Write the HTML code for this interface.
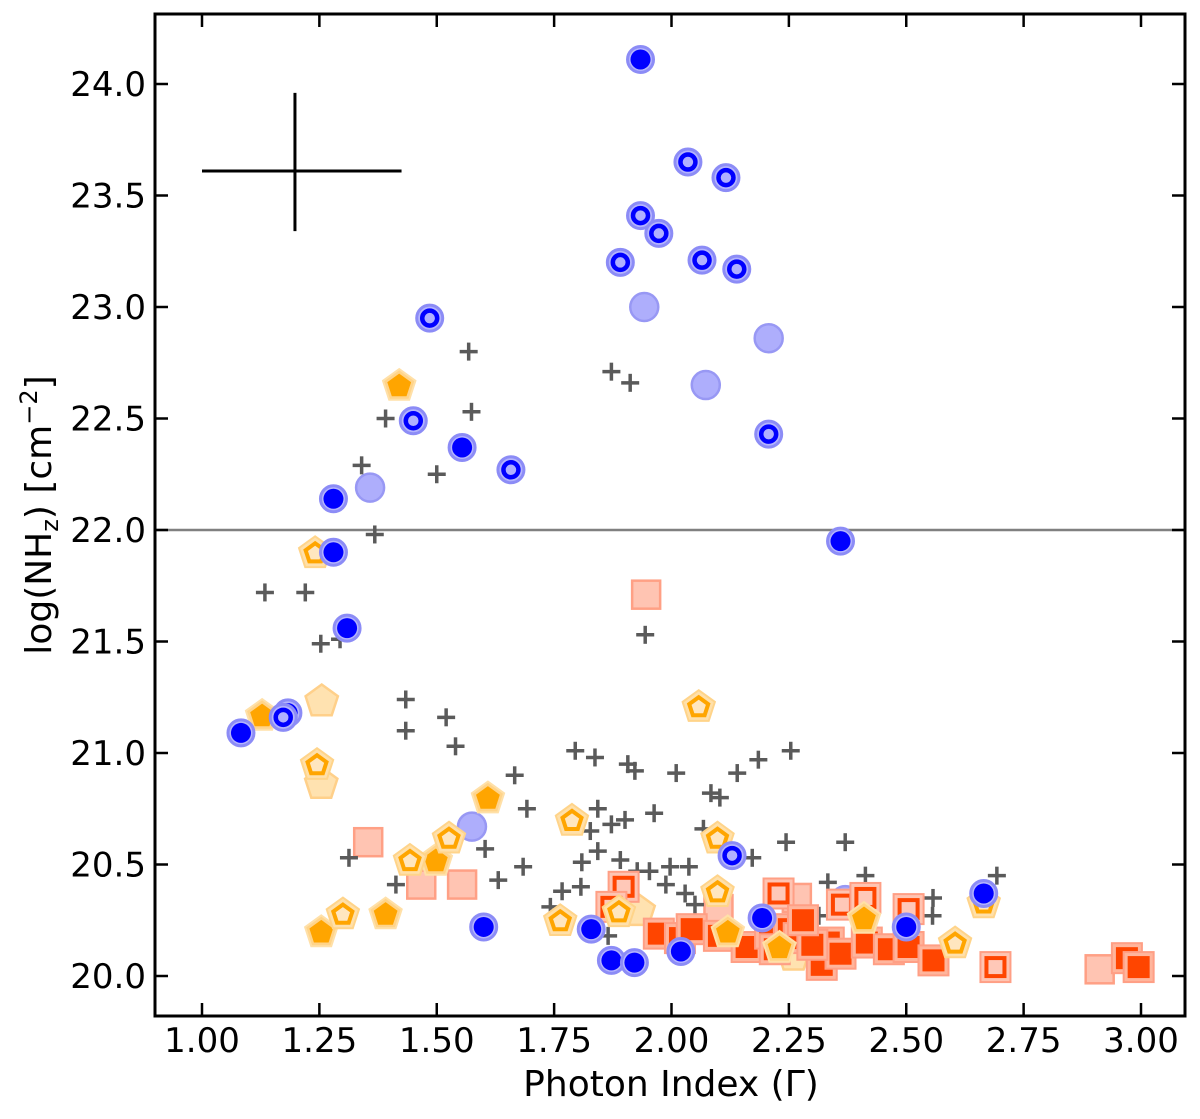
<!DOCTYPE html>
<html><head><meta charset="utf-8">
<style>
html,body{margin:0;padding:0;background:#fff;}
svg{display:block;font-family:"DejaVu Sans","Liberation Sans",sans-serif;}
</style></head>
<body>
<svg id="chart" width="1200" height="1119" viewBox="0 0 1200 1119">
<g id="marks"></g>
<g id="axes"></g>
</svg>
<script>
// ---- data ----
const xTicks = [1.00,1.25,1.50,1.75,2.00,2.25,2.50,2.75,3.00];
const yTicks = [20.0,20.5,21.0,21.5,22.0,22.5,23.0,23.5,24.0];
const blueFillX = [1.934,1.554,1.280,1.280,1.309,1.083,1.600,1.829,1.872,1.921,2.020,2.360,2.193,2.500,2.665];
const blueFillY = [24.11,22.37,22.14,21.90,21.56,21.09,20.22,20.21,20.07,20.06,20.11,21.95,20.26,20.22,20.37];
const blueOpenX = [1.934,1.891,1.973,2.035,2.116,2.065,2.139,1.485,1.450,1.658,2.207,1.183,1.173,2.129];
const blueOpenY = [23.41,23.20,23.33,23.65,23.58,23.21,23.17,22.95,22.49,22.27,22.43,21.18,21.16,20.54];
const blueLightX = [1.942,2.207,2.073,1.358,1.575,2.370];
const blueLightY = [23.00,22.86,22.65,22.19,20.67,20.34];
const pentFillX = [1.420,1.128,1.609,1.498,1.391,1.254,2.410,2.230,2.120];
const pentFillY = [22.65,21.17,20.80,20.52,20.28,20.20,20.26,20.13,20.20];
const pentOpenX = [1.241,1.245,1.526,1.443,1.300,2.058,1.788,2.098,1.763,2.098,2.604,2.665,1.888];
const pentOpenY = [21.90,20.95,20.62,20.52,20.28,21.21,20.70,20.62,20.25,20.38,20.15,20.33,20.29];
const pentLightX = [1.255,1.254,1.930,2.260];
const pentLightY = [21.24,20.87,20.30,20.10];
const sqLightX = [1.946,1.354,1.467,1.554,2.267,2.912,2.100];
const sqLightY = [21.71,20.60,20.41,20.41,20.35,20.03,20.30];
const sqOpenX = [1.898,1.872,2.228,2.363,2.505,2.690,2.413];
const sqOpenY = [20.40,20.31,20.37,20.32,20.30,20.04,20.35];
const sqFillX = [1.973,2.018,2.043,2.101,2.160,2.210,2.250,2.220,2.271,2.320,2.335,2.360,2.416,2.463,2.505,2.558,2.970,2.995,2.300,2.280];
const sqFillY = [20.19,20.17,20.21,20.18,20.13,20.19,20.21,20.12,20.17,20.05,20.15,20.10,20.15,20.12,20.13,20.07,20.08,20.04,20.14,20.25];
const crossX = [1.568,1.872,1.912,1.574,1.391,1.500,1.340,1.368,1.134,1.220,1.253,1.294,1.944,1.434,1.434,1.520,1.540,1.795,1.837,1.907,1.922,2.010,2.140,2.185,2.254,1.666,1.692,1.843,1.963,2.084,2.103,2.068,2.370,1.827,1.872,1.901,1.313,1.603,1.684,1.631,1.809,1.843,1.891,1.927,1.953,1.997,2.037,2.172,2.244,1.413,1.767,1.742,1.988,2.029,2.050,2.333,2.413,2.557,2.693,1.865,1.807,2.314,2.556,2.185];
const crossY = [22.80,22.71,22.66,22.53,22.50,22.25,22.29,21.98,21.72,21.72,21.49,21.51,21.53,21.24,21.10,21.16,21.03,21.01,20.98,20.95,20.92,20.91,20.91,20.97,21.01,20.90,20.75,20.75,20.73,20.82,20.80,20.66,20.60,20.65,20.68,20.70,20.53,20.57,20.49,20.43,20.51,20.56,20.52,20.47,20.47,20.49,20.49,20.53,20.60,20.41,20.38,20.31,20.41,20.37,20.32,20.42,20.45,20.35,20.45,20.18,20.40,20.27,20.27,20.16];
const errCenter = [1.198, 23.61];
const errHalfX = [0.198, 0.227];
const errHalfY = [0.35, 0.27];
const refLineY = 22.0;

// ---- axes ----
const L=155,R=1185,T=14,B=1016;
const X = v => 202 + (v-1.0)*469.5;
const Y = v => 84 + (24.0-v)*223;
const NS='http://www.w3.org/2000/svg';
const marks=document.getElementById('marks');
const axes=document.getElementById('axes');
function mk(tag,attrs,parent){const e=document.createElementNS(NS,tag);for(const k in attrs)e.setAttribute(k,attrs[k]);parent.appendChild(e);return e;}
function pent(cx,cy,r){let p=[];for(let i=0;i<5;i++){const a=-Math.PI/2+i*2*Math.PI/5;p.push((cx+r*Math.cos(a)).toFixed(1)+','+(cy+r*Math.sin(a)).toFixed(1));}return p.join(' ');}

let hl=mk('line',{x1:L,x2:R,y1:Y(refLineY),y2:Y(refLineY),stroke:'#808080','stroke-width':2.5},marks);



sqLightX.forEach((x,i)=>{const s=28;let e=mk('rect',{x:X(x)-s/2,y:Y(sqLightY[i])-s/2,width:s,height:s,fill:'#ffc4b2',stroke:'#ffa085','stroke-width':2.5},marks);

});
pentLightX.forEach((x,i)=>{let e=mk('polygon',{points:pent(X(x),Y(pentLightY[i])+2,17),fill:'#ffe2b0',stroke:'#ffd08a','stroke-width':2.5},marks);

});
blueLightX.forEach((x,i)=>{let e=mk('circle',{cx:X(x),cy:Y(blueLightY[i]),r:14,fill:'#aeaefc',stroke:'#9898f4','stroke-width':2.5},marks);

});

crossX.forEach((x,i)=>{const cx=X(x),cy=Y(crossY[i]),a=9;let g=mk('g',{stroke:'#5a5a5a','stroke-width':3.5},marks);


mk('line',{x1:cx-a,x2:cx+a,y1:cy,y2:cy},g);mk('line',{x1:cx,x2:cx,y1:cy-a,y2:cy+a},g);});

sqOpenX.forEach((x,i)=>{const cx=X(x),cy=Y(sqOpenY[i]);let g=mk('g',{},marks);


mk('rect',{x:cx-15,y:cy-15,width:30,height:30,fill:'#ffc4b2',stroke:'#ff9f85','stroke-width':2},g);
mk('rect',{x:cx-9,y:cy-9,width:18,height:18,fill:'#ffc8b8',stroke:'#ff4500','stroke-width':4},g);});
sqFillX.forEach((x,i)=>{const cx=X(x),cy=Y(sqFillY[i]);let g=mk('g',{},marks);


mk('rect',{x:cx-15,y:cy-15,width:30,height:30,fill:'#ffb59c',stroke:'#ff9f85','stroke-width':2},g);
mk('rect',{x:cx-11,y:cy-11,width:22,height:22,fill:'#ff4500'},g);});

pentFillX.forEach((x,i)=>{const cx=X(x),cy=Y(pentFillY[i])+1;let g=mk('g',{},marks);


mk('polygon',{points:pent(cx,cy,17),fill:'#ffd48a',stroke:'#ffe0a8','stroke-width':2},g);
mk('polygon',{points:pent(cx,cy,12.5),fill:'#ffa500'},g);});
pentOpenX.forEach((x,i)=>{const cx=X(x),cy=Y(pentOpenY[i])+1;let g=mk('g',{},marks);


mk('polygon',{points:pent(cx,cy,17),fill:'#ffe0aa',stroke:'#ffd48a','stroke-width':2},g);
mk('polygon',{points:pent(cx,cy,10),fill:'#ffe6bf',stroke:'#ffa500','stroke-width':4},g);});

blueOpenX.forEach((x,i)=>{const cx=X(x),cy=Y(blueOpenY[i]);let g=mk('g',{},marks);


mk('circle',{cx,cy,r:13,fill:'#b4b4fc',stroke:'#8c8cf6','stroke-width':3},g);
mk('circle',{cx,cy,r:7.5,fill:'#b0b0ff',stroke:'#0000ff','stroke-width':4.5},g);});
blueFillX.forEach((x,i)=>{const cx=X(x),cy=Y(blueFillY[i]);let g=mk('g',{},marks);


mk('circle',{cx,cy,r:13,fill:'#b4b4fc',stroke:'#8c8cf6','stroke-width':3},g);
mk('circle',{cx,cy,r:10,fill:'#0000ff'},g);});

let eg=mk('g',{stroke:'#000','stroke-width':3},marks);


mk('line',{x1:X(errCenter[0]-errHalfX[0]),x2:X(errCenter[0]+errHalfX[1]),y1:Y(errCenter[1]),y2:Y(errCenter[1])},eg);
mk('line',{x1:X(errCenter[0]),x2:X(errCenter[0]),y1:Y(errCenter[1]+errHalfY[0]),y2:Y(errCenter[1]-errHalfY[1])},eg);

let fr=mk('rect',{x:L,y:T,width:R-L,height:B-T,fill:'none',stroke:'#000','stroke-width':3},axes);


xTicks.forEach(v=>{const x=X(v);
mk('line',{x1:x,x2:x,y1:B,y2:B-13,stroke:'#000','stroke-width':2.5},axes);
mk('line',{x1:x,x2:x,y1:T,y2:T+13,stroke:'#000','stroke-width':2.5},axes);
let t=mk('text',{x:x,y:1052,'text-anchor':'middle','font-size':34,fill:'#000'},axes);t.textContent=v.toFixed(2);

});
yTicks.forEach(v=>{const y=Y(v);
mk('line',{x1:L,x2:L+13,y1:y,y2:y,stroke:'#000','stroke-width':2.5},axes);
mk('line',{x1:R,x2:R-13,y1:y,y2:y,stroke:'#000','stroke-width':2.5},axes);
let t=mk('text',{x:146,y:y+12,'text-anchor':'end','font-size':34,fill:'#000'},axes);t.textContent=v.toFixed(1);

});
</script>
<div style="position:absolute;left:0;top:0;width:1200px;height:1119px;pointer-events:none">
<svg width="1200" height="1119" style="font-family:'DejaVu Sans','Liberation Sans',sans-serif">
<text x="671" y="1096" text-anchor="middle" font-size="36">Photon Index (Γ)</text>
<text transform="translate(51,515) rotate(-90)" text-anchor="middle" font-size="36">log(NH<tspan font-size="24" dy="7">z</tspan><tspan dy="-7">) [cm</tspan><tspan font-size="24" dy="-14">−2</tspan><tspan dy="14">]</tspan></text>
</svg></div>
</body></html>
